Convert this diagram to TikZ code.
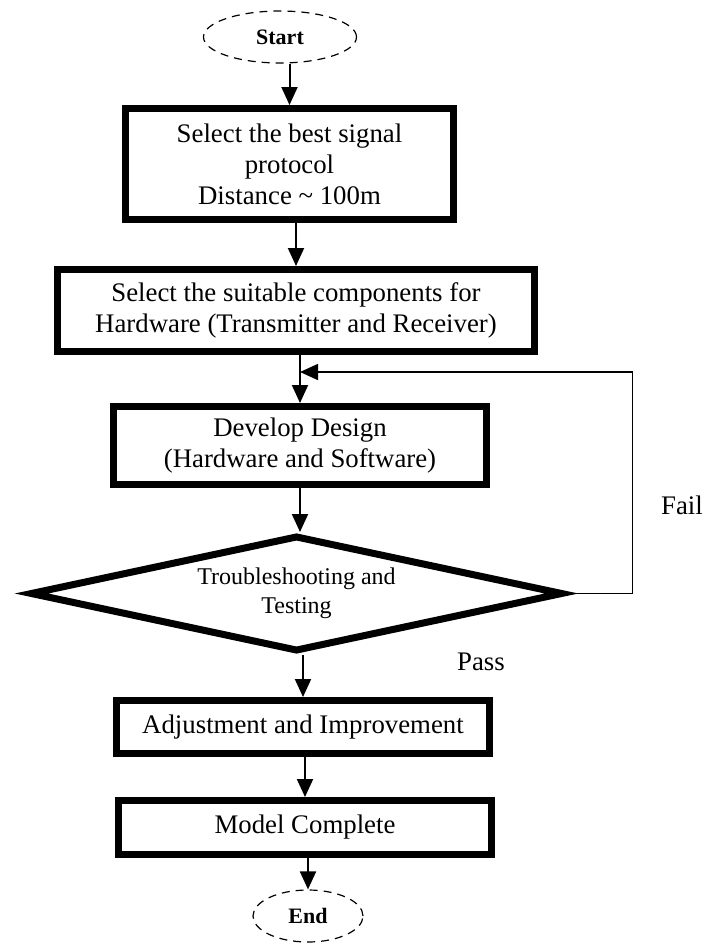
\documentclass[tikz,border=0pt]{standalone}
\usepackage{fontspec}
\setmainfont{Liberation Serif}
\usetikzlibrary{shapes.geometric,arrows.meta}
\begin{document}
\begin{tikzpicture}[x=0.5pt,y=-0.5pt]
\tikzstyle{every node}=[font=\fontsize{13.4}{15.5}\selectfont]
\tikzstyle{stepbox}=[draw, line width=3.5pt, inner sep=0pt, align=center]
\tikzstyle{terminal}=[draw, ellipse, dashed, dash pattern=on 4pt off 3pt, line width=0.6pt, inner sep=0pt, font=\fontsize{11}{13}\selectfont\bfseries]
\tikzstyle{flow}=[line width=1pt, -{Triangle[width=8pt,length=9pt]}]
\useasboundingbox (0,0) rectangle (705,944);
% start
  \node[terminal, minimum width=76.5pt, minimum height=26pt] (start) at (280,37) {Start};
% protocol
  \node[stepbox, minimum width=164pt, minimum height=55.5pt] (proto) at (289.5,164)%
{%
  Select the best signal\\
  protocol\\
  Distance \textasciitilde{} 100m
};
% components
  \node[stepbox, minimum width=238.5pt, minimum height=41pt] (comp) at (296,310.5)%
{%
  Select the suitable components for\\
  Hardware (Transmitter and Receiver)
};
% design
  \node[stepbox, minimum width=186.5pt, minimum height=39pt] (design) at (300,445.5)%
{%
  Develop Design\\
  (Hardware and Software)
};
% testing
  \node[draw, diamond, line width=3.5pt, aspect=4.6, inner sep=0pt, minimum width=266.5pt, minimum height=58pt, align=center, font=\fontsize{12}{14.5}\selectfont] (test) at (296.5,593.5)%
{%
  Troubleshooting and\\
  Testing
};
% adjustment
  \node[stepbox, minimum width=186.5pt, minimum height=26.5pt] (adjust) at (303,727) {Adjustment and Improvement};
% model
  \node[stepbox, minimum width=186.5pt, minimum height=27pt] (model) at (305,827.5) {Model Complete};
% end
  \node[terminal, minimum width=55pt, minimum height=26pt] (end) at (308,916) {End};
% labels
  \node (fail) at (682,505) {Fail};
  \node (pass) at (481,662) {Pass};
%%%%%%%%%%%%%%%%
\coordinate (merge) at (300,372);
\draw[flow] (start.south -| proto.north) -- (proto.north);
\draw[flow] (proto.south -| comp.north) -- (comp.north);
\draw[flow] (comp.south -| design.north) -- (design.north);
\draw[flow] (design.south) -- (design.south |- test.north);
\draw[flow] (test.south -| adjust.north) -- (adjust.north);
\draw[flow] (adjust.south -| model.north) -- (model.north);
\draw[flow] (model.south -| end.north) -- (end.north);
\draw[flow, line width=0.8pt] (test.east) -- ++(66,0) |- (merge);
\end{tikzpicture}
\end{document}
